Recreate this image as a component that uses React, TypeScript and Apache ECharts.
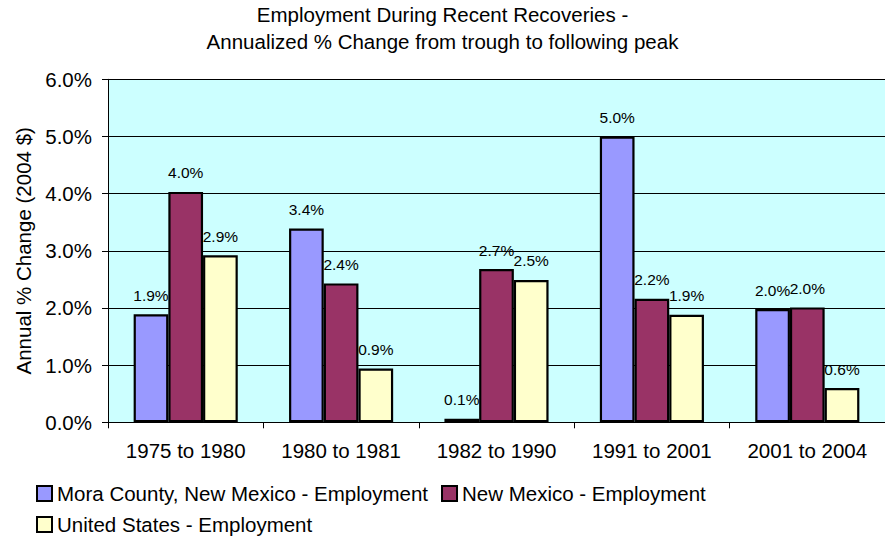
import React, { useEffect, useRef } from "react";
import * as echarts from "echarts";

const categories = ["1975 to 1980", "1980 to 1981", "1982 to 1990", "1991 to 2001", "2001 to 2004"];
const moraCounty = [1.89, 3.39, 0.06, 5.0, 1.98];
const newMexico = [4.03, 2.43, 2.68, 2.16, 2.01];
const unitedStates = [2.92, 0.94, 2.49, 1.88, 0.6];
const seriesNames = [
  "Mora County, New Mexico - Employment",
  "New Mexico - Employment",
  "United States - Employment",
];
const yTicks = [0, 1, 2, 3, 4, 5, 6];

const FONT = "Liberation Sans, Arial, sans-serif";

export default function App() {
  const ref = useRef<HTMLDivElement>(null);
  useEffect(() => {
    if (!ref.current) return;
    const chart = echarts.init(ref.current, undefined, { renderer: "svg" });
    const label = {
      show: true,
      position: "top" as const,
      distance: 11,
      fontSize: 15.5,
      fontFamily: FONT,
      color: "#000",
      formatter: (p: any) => Number(p.value).toFixed(1) + "%",
    };
    const mk = (name: string, data: number[], color: string) => ({
      name,
      type: "bar",
      data,
      barGap: "0%",
      barCategoryGap: "33%",
      itemStyle: { color, borderColor: "#000", borderWidth: 2.2 },
      label,
    });
    chart.setOption({
      animation: false,
      textStyle: { fontFamily: FONT },
      title: {
        text: "Employment During Recent Recoveries -\nAnnualized % Change from trough to following peak",
        left: "center",
        top: 1,
        padding: [0, 0, 0, 7],
        textStyle: { fontSize: 20.5, fontWeight: "normal", color: "#000", lineHeight: 27, fontFamily: FONT },
      },
      legend: [
        {
          data: [seriesNames[0], seriesNames[1]],
          left: 31,
          top: 478,
          itemWidth: 15,
          itemHeight: 15,
          itemGap: 13,
          icon: "rect",
          textStyle: { fontSize: 20.5, color: "#000", fontFamily: FONT },
        },
        {
          data: [seriesNames[2]],
          left: 31,
          top: 509,
          itemWidth: 15,
          itemHeight: 15,
          icon: "rect",
          textStyle: { fontSize: 20.5, color: "#000", fontFamily: FONT },
        },
      ],
      grid: {
        left: 108,
        right: -5.5,
        top: 79.3,
        bottom: 117.7,
        show: true,
        backgroundColor: "#CCFFFF",
        borderWidth: 0,
      },
      xAxis: {
        type: "category",
        data: categories,
        axisLine: { lineStyle: { color: "#000", width: 1 } },
        axisTick: { show: true, length: 6, lineStyle: { color: "#000" } },
        axisLabel: { interval: 0, fontSize: 20.5, color: "#000", margin: 18, fontFamily: FONT },
      },
      yAxis: {
        type: "value",
        min: yTicks[0],
        max: yTicks[yTicks.length - 1],
        interval: 1,
        name: "Annual % Change (2004 $)",
        nameLocation: "middle",
        nameGap: 74,
        nameTextStyle: { fontSize: 20.5, color: "#000", fontFamily: FONT },
        axisLine: { show: true, lineStyle: { color: "#000", width: 1 } },
        axisTick: { show: true, length: 6, lineStyle: { color: "#000" } },
        axisLabel: {
          fontSize: 20.5,
          color: "#000",
          margin: 16,
          fontFamily: FONT,
          formatter: (v: number) => v.toFixed(1) + "%",
        },
        splitLine: { show: true, lineStyle: { color: "#000", width: 1 } },
      },
      series: [
        mk(seriesNames[0], moraCounty, "#9999FF"),
        mk(seriesNames[1], newMexico, "#993366"),
        mk(seriesNames[2], unitedStates, "#FFFFCC"),
      ],
    });
    return () => chart.dispose();
  }, []);
  return (
    <div
      ref={ref}
      style={{ position: "absolute", left: 0, top: 0, width: 885, height: 540 }}
    />
  );
}
